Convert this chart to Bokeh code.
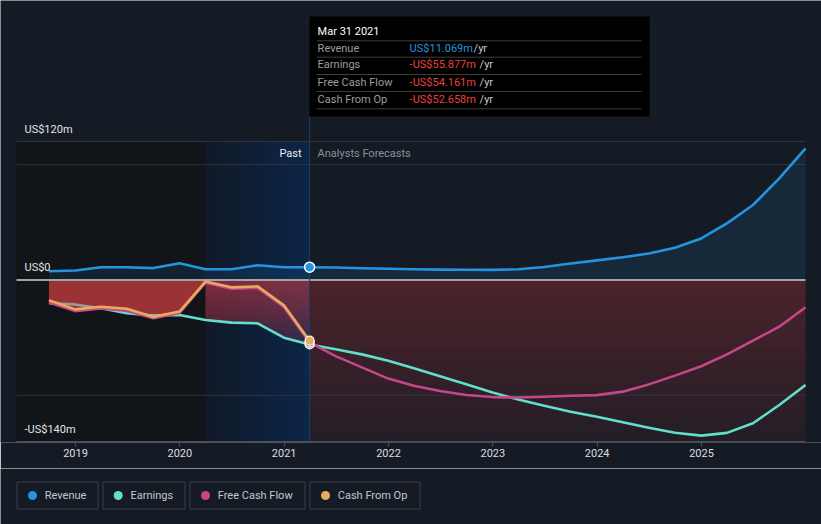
import numpy as np
import pandas as pd
from bokeh.plotting import figure
from bokeh.models import Range1d, FixedTicker, ColumnDataSource
from bokeh.layouts import column
from bokeh.core.properties import value
from bokeh.embed import file_html
from bokeh.resources import INLINE

# ---------------- data (US$ m) ----------------
past_dates = ["2018-09-30", "2018-12-31", "2019-03-31", "2019-06-30", "2019-09-30",
              "2019-12-31", "2020-03-31", "2020-06-30", "2020-09-30", "2020-12-31",
              "2021-03-31"]
revenue_past = [7.5, 8.2, 11.0, 11.0, 10.3, 14.5, 9.3, 9.3, 12.7, 11.0, 11.069]
earnings_past = [-20.2, -21.2, -24.6, -28.9, -30.9, -30.3, -34.7, -37.0, -37.6, -50.0, -55.877]
fcf_past = [-19.5, -27.0, -24.6, -26.6, -33.2, -28.6, -2.4, -7.5, -6.8, -23.5, -54.161]
cfo_past = [-17.5, -25.5, -23.2, -25.0, -32.0, -27.4, -1.4, -6.4, -5.6, -22.0, -52.658]

forecast_dates = ["2021-06-30", "2021-09-30", "2021-12-31", "2022-03-31", "2022-06-30",
                  "2022-09-30", "2022-12-31", "2023-03-31", "2023-06-30", "2023-09-30",
                  "2023-12-31", "2024-03-31", "2024-06-30", "2024-09-30", "2024-12-31",
                  "2025-03-31", "2025-06-30", "2025-09-30", "2025-12-31"]
revenue_forecast = [10.8, 10.2, 9.7, 9.3, 9.0, 8.8, 8.7, 9.3, 11.2, 14.2, 17.0, 19.7,
                    23.0, 28.0, 36.0, 49.0, 65.0, 88.0, 114.0]
earnings_forecast = [-60.0, -64.5, -70.0, -76.5, -83.5, -90.4, -97.5, -103.6, -109.0,
                     -114.2, -118.6, -123.3, -128.0, -132.4, -134.9, -132.5, -124.2,
                     -108.4, -91.0]
fcf_forecast = [-66.0, -75.8, -85.5, -91.6, -96.3, -99.7, -101.5, -101.9, -101.2, -100.4,
                -99.8, -96.8, -90.5, -82.9, -74.8, -64.5, -52.6, -40.5, -23.7]

year_ticks = [2019, 2020, 2021, 2022, 2023, 2024, 2025]
year_labels = ["2019", "2020", "2021", "2022", "2023", "2024", "2025"]
y_label_values = [120, 0, -140]
y_label_texts = ["US$120m", "US$0", "-US$140m"]
grid_values = [120, 100, -100]

series_names = ["Revenue", "Earnings", "Free Cash Flow", "Cash From Op"]
series_colors = ["#2394df", "#62dfcb", "#c5468b", "#e8aa5c"]

tooltip_date = "Mar 31 2021"
tooltip_values = ["US$11.069m", "-US$55.877m", "-US$54.161m", "-US$52.658m"]
tooltip_value_colors = ["#2394df", "#e8413f", "#e8413f", "#e8413f"]


def dec_year(dates):
    d = pd.to_datetime(pd.Series(dates))
    days = np.where(d.dt.is_leap_year, 366, 365)
    return (d.dt.year + (d.dt.dayofyear - 1) / days).to_numpy(dtype=float)


def lerp_colors(c0, c1, n):
    c0, c1 = np.array(c0, float), np.array(c1, float)
    out = []
    for k in range(n):
        t = (k + 0.5) / n
        c = (c0 * (1 - t) + c1 * t).round().astype(int)
        out.append("#%02x%02x%02x" % tuple(c))
    return out


xp_past = dec_year(past_dates)
xp_fc = dec_year(forecast_dates)
x_all = np.concatenate([xp_past, xp_fc])
rev_all = np.array(revenue_past + revenue_forecast)
earn_all = np.array(earnings_past + earnings_forecast)
fcf_all = np.array(fcf_past + fcf_forecast)
now_x = xp_past[-1]
zone_start = now_x - 1.0

# ---------------- geometry (layout fills the window) ----------------
BG = "#151b24"
W = 821
MAIN_H, LEG_H = 468, 56
FH = 442                         # frame height of the main figure
XPX = (701 - 75) / 6.0           # pixels per year
X0 = 2019 - 75 / XPX
X1 = X0 + W / XPX
YPX = (441 - 141) / 260.0        # pixels per US$ m
Y1 = 120 + 141 / YPX
Y0 = Y1 - FH / YPX


def xpix(px):
    return X0 + px / XPX


def ypix(py):
    return Y1 - py / YPX


FONT = value("Roboto")

p = figure(width=W, height=MAIN_H, x_range=Range1d(X0, X1), y_range=Range1d(Y0, Y1),
           output_backend="svg", toolbar_location=None, y_axis_location=None,
           min_border_left=0, min_border_right=0, min_border_top=0,
           min_border_bottom=MAIN_H - FH,
           background_fill_color=BG, border_fill_color=BG, outline_line_color=None)
p.xgrid.grid_line_color = None
p.ygrid.grid_line_color = None

XL, XR = xpix(16), xpix(805)

# zone before the last year
p.quad(left=[XL], right=[zone_start], top=[120], bottom=[-140],
       fill_color="#111419", line_color=None)
# last past year: horizontal blue gradient
ns = 16
sx = np.linspace(zone_start, now_x, ns + 1)
p.quad(left=sx[:-1], right=np.minimum(sx[1:] + 0.004, now_x), top=120, bottom=-140,
       fill_color=lerp_colors((17, 25, 40), (12, 38, 72), ns), line_color=None)

# forecast negative gradient
nb = 14
edges = np.linspace(0, -140, nb + 1)
p.quad(left=now_x, right=x_all[-1], top=edges[:-1], bottom=edges[1:] - 0.6,
       fill_color=lerp_colors((75, 35, 42), (36, 29, 38), nb), line_color=None)

# grid lines
p.segment(x0=XL, x1=XR, y0=grid_values, y1=grid_values,
          line_color="#2f333b", line_width=1)
p.segment(x0=[XL], x1=[XR], y0=[-140], y1=[-140],
          line_color="#4b5058", line_width=1)

# last past year: red fading fill from zero down to the earnings line
E = np.array(earnings_past[6:])
xb = xp_past[6:]
p.varea(x=xb, y1=0, y2=E, fill_color="#c83c55", fill_alpha=0.15)
for bot in np.arange(-5, -60, -5):
    p.varea(x=xb, y1=0, y2=np.maximum(E, bot), fill_color="#c83c55", fill_alpha=0.062)

# revenue fill
p.varea(x=x_all, y1=0, y2=rev_all, fill_color="#2394df", fill_alpha=0.12)

# past fill, before the last year
p.varea(x=xp_past[:7], y1=0, y2=np.array(cfo_past[:7]), fill_color="#9a3236")

# zero line
p.segment(x0=[XL], x1=[XR], y0=[0], y1=[0], line_color="#a7a2a2", line_width=2)

# now line
p.segment(x0=[now_x], x1=[now_x], y0=[-140], y1=[ypix(116)], line_color="#1f3d66", line_width=1)

# series lines
LW = 2.6
p.line(xp_past[:3], earnings_past[:3], line_color="#9a9a9a", line_width=LW, line_join="round")
p.line(x_all[2:], earn_all[2:], line_color=series_colors[1], line_width=LW, line_join="round")
p.line(x_all, fcf_all, line_color=series_colors[2], line_width=LW, line_join="round")
p.line(xp_past, cfo_past, line_color=series_colors[3], line_width=LW, line_join="round")
p.line(x_all, rev_all, line_color=series_colors[0], line_width=LW, line_join="round")

# now markers
p.scatter(x=[now_x] * 3, y=[earnings_past[-1], fcf_past[-1], cfo_past[-1]], size=9,
          fill_color=[series_colors[1], series_colors[2], series_colors[3]],
          line_color="white", line_width=1.2)
p.scatter(x=[now_x], y=[revenue_past[-1]], size=10, fill_color=series_colors[0],
          line_color="white", line_width=1.5)

# y labels
p.text(x=[xpix(24)] * 3, y=y_label_values, text=y_label_texts, text_font=FONT,
       text_font_size="11px", text_color="#e2e3e5", text_align="left",
       text_baseline="middle", y_offset=-12)

# past / forecast labels
p.text(x=[now_x], y=[120], text=["Past"], text_font=FONT, text_font_size="11px",
       text_color="#eceef0", text_align="right", text_baseline="middle",
       x_offset=-8, y_offset=12)
p.text(x=[now_x], y=[120], text=["Analysts Forecasts"], text_font=FONT,
       text_font_size="11px", text_color="#8c9099", text_align="left",
       text_baseline="middle", x_offset=8, y_offset=12)

# tooltip
p.quad(left=[now_x], right=[now_x + 340 / XPX], top=[ypix(16)], bottom=[ypix(116)],
       fill_color="#000000", line_color=None)
sep_py = [40.3, 56.7, 74.0, 91.0, 108.3]
p.segment(x0=now_x + 7 / XPX, x1=now_x + 332 / XPX, y0=[ypix(v) for v in sep_py],
          y1=[ypix(v) for v in sep_py], line_color="#3d3d3d", line_width=1)
p.text(x=[now_x], y=[ypix(31)], text=[tooltip_date], text_font=FONT, text_font_size="11px",
       text_color="#ffffff", text_align="left", text_baseline="middle", x_offset=8)
row_py = [47.7, 64.3, 81.7, 99.3]
row_y = [ypix(v) for v in row_py]
src = ColumnDataSource(dict(x=[now_x] * 4, y=row_y, name=series_names,
                            val=tooltip_values, col=tooltip_value_colors,
                            yr=["/yr"] * 4, yroff=[164, 170, 170, 170]))
p.text(x="x", y="y", text="name", source=src, text_font=FONT, text_font_size="11px",
       text_color="#9c9ea3", text_align="left", text_baseline="middle", x_offset=8)
p.text(x="x", y="y", text="val", source=src, text_font=FONT, text_font_size="11px",
       text_color="col", text_align="left", text_baseline="middle", x_offset=100)
p.text(x="x", y="y", text="yr", source=src, text_font=FONT, text_font_size="11px",
       text_color="#c8c8c8", text_align="left", text_baseline="middle", x_offset="yroff")

# x axis
p.xaxis.ticker = FixedTicker(ticks=year_ticks)
p.xaxis.major_label_overrides = {t: l for t, l in zip(year_ticks, year_labels)}
p.xaxis.axis_line_color = None
p.xaxis.major_tick_line_color = "#4b5058"
p.xaxis.major_tick_in = 0
p.xaxis.major_tick_out = 4
p.xaxis.minor_tick_line_color = None
p.xaxis.major_label_text_font = "Roboto"
p.xaxis.major_label_text_font_size = "11px"
p.xaxis.major_label_text_color = "#dcdde0"
p.xaxis.major_label_standoff = 2

# ---------------- legend ----------------
leg = figure(width=W, height=LEG_H, x_range=Range1d(0, W), y_range=Range1d(MAIN_H + LEG_H, MAIN_H),
             output_backend="svg", toolbar_location=None, x_axis_location=None,
             y_axis_location=None, min_border=0, background_fill_color=BG,
             border_fill_color=BG, outline_line_color=None)
leg.xgrid.grid_line_color = None
leg.ygrid.grid_line_color = None
box_left = [16.5, 102.5, 189.5, 309.5]
box_right = [97.5, 184.5, 304.5, 419.5]
dot_x = [32, 117.7, 205, 325]
text_x = [44.3, 130, 217.3, 337.3]
leg.quad(left=box_left, right=box_right, top=481.5, bottom=508.5, fill_color=None,
         line_color="#3a3f47", line_width=1)
leg.scatter(x=dot_x, y=[495] * 4, size=9, fill_color=series_colors, line_color=None)
leg.text(x=text_x, y=[495] * 4, text=series_names, text_font=FONT, text_font_size="11px",
         text_color="#c5c7cb", text_align="left", text_baseline="middle")

layout = column(p, leg, spacing=0)
html = file_html(layout, INLINE)
html = html.replace("<body>", '<body style="background-color:#151b24;">', 1)
open("out.html", "w").write(html)
